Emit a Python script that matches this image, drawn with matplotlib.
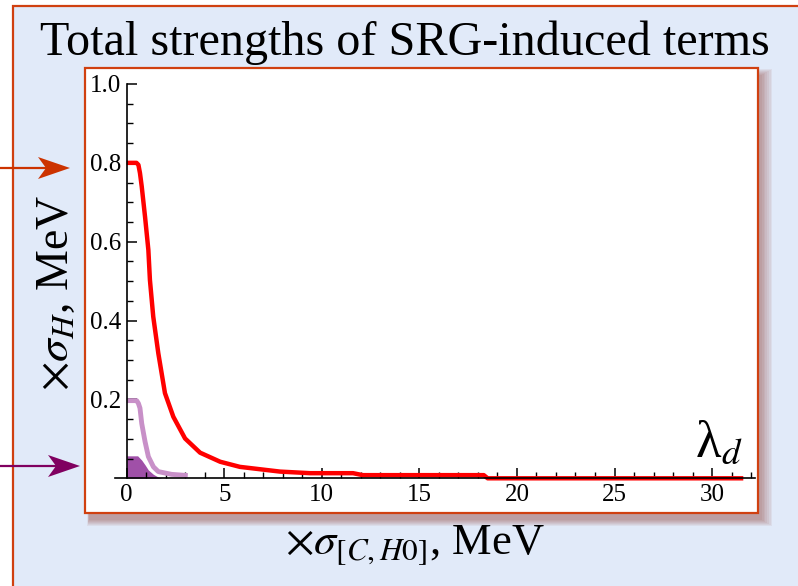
import numpy as np
import matplotlib
matplotlib.use("Agg")
import matplotlib.pyplot as plt
from matplotlib.patches import Rectangle, Polygon

plt.rcParams['font.family'] = ['Liberation Serif', 'DejaVu Serif']
plt.rcParams['mathtext.fontset'] = 'stix'

# curves (x in MeV, strength in MeV)
red_x = [0, 0.5, 0.6, 0.68, 0.77, 0.94, 1.11, 1.19, 1.36, 1.62, 1.96, 2.39, 2.99, 3.76, 4.79, 5.8, 7.86, 9.4, 11.6, 12.1, 18.3, 18.5, 31.6]
red_y = [0.80, 0.80, 0.795, 0.774, 0.74, 0.663, 0.579, 0.503, 0.41, 0.317, 0.216, 0.156, 0.101, 0.065, 0.042, 0.029, 0.017, 0.013, 0.013, 0.008, 0.008, 0.0, 0.0]

light_x = [0, 0.51, 0.6, 0.68, 0.77, 0.94, 1.11, 1.37, 1.62, 2.3, 3.13]
light_y = [0.197, 0.197, 0.19, 0.178, 0.139, 0.093, 0.055, 0.029, 0.017, 0.010, 0.007]

dark_x = [0, 0.56, 0.77, 0.94, 1.11, 1.37, 1.62, 1.8]
dark_y = [0.057, 0.057, 0.046, 0.034, 0.021, 0.010, 0.003, 0.0]

xticks = [0, 5, 10, 15, 20, 25, 30]
yticks = [0.2, 0.4, 0.6, 0.8, 1.0]

W, H = 798, 586
orange = '#D04010'
bg = '#E1EAF9'
serif = 'Liberation Serif'

def fx(px):
    return px / W

def fy(py):
    return 1 - py / H

fig = plt.figure(figsize=(7.98, 5.86), dpi=100)
fig.patch.set_facecolor('white')

# slide background with frame on top/left
fig.patches.append(Rectangle((fx(13), -0.2), 1.3, fy(6) + 0.2, transform=fig.transFigure,
                             facecolor=bg, edgecolor=orange, lw=1.6, zorder=-10))

# shadow of the plot box
for i in range(7):
    fig.patches.append(Rectangle((fx(85 + 4 - i * 0.3), fy(512.7 + 7 + i)), fx(673 + 2 * i), (444.7 + 2 * i) / H,
                                 transform=fig.transFigure, facecolor=(0.55, 0.2, 0.15),
                                 edgecolor='none', alpha=0.07, zorder=-9))
# plot box
fig.patches.append(Rectangle((fx(85), fy(512.7)), fx(673), 444.7 / H, transform=fig.transFigure,
                             facecolor='white', edgecolor=orange, lw=1.6, zorder=-8))

# arrows on the left
for y, tip, col in [(168, 70, '#CC3300'), (466, 80, '#800060')]:
    fig.add_artist(plt.Line2D([0, fx(tip - 20)], [fy(y), fy(y)], transform=fig.transFigure,
                              color=col, lw=1.6))
    head = [(fx(tip), fy(y)), (fx(tip - 32), fy(y - 11)), (fx(tip - 24), fy(y)), (fx(tip - 32), fy(y + 11))]
    fig.add_artist(Polygon(head, closed=True, transform=fig.transFigure, facecolor=col, edgecolor='none'))

ax = fig.add_axes([fx(115), fy(478.3), fx(755 - 115), (478.3 - 84) / H])
ax.set_facecolor('none')
ax.set_xlim(-0.6, 32.2)
ax.set_ylim(0, 1.0)

ax.fill_between(dark_x, dark_y, 0, color='#A050A8', lw=0, clip_on=False)
ax.plot(light_x, light_y, color='#C890C8', lw=3.5, solid_capstyle='butt', clip_on=False)
ax.plot(red_x, red_y, color='red', lw=3.2, solid_capstyle='butt', clip_on=False)

ax.spines['top'].set_visible(False)
ax.spines['right'].set_visible(False)
ax.spines['left'].set_position(('data', 0))
for s in ['left', 'bottom']:
    ax.spines[s].set_linewidth(1.2)
    ax.spines[s].set_zorder(5)

ax.set_xticks(xticks)
ax.set_xticklabels([str(v) for v in xticks], fontfamily=serif, fontsize=18)
ax.set_xticks(np.arange(1, 33), minor=True)
ax.set_yticks(yticks)
ax.set_yticklabels(['%.1f' % v for v in yticks], fontfamily=serif, fontsize=18)
ax.set_yticks(np.arange(0.05, 1.0, 0.05), minor=True)
ax.tick_params(which='major', direction='in', length=7, width=1.1, pad=4)
ax.tick_params(which='minor', direction='in', length=4, width=1.0)

fig.text(fx(405), fy(55), 'Total strengths of SRG-induced terms', ha='center', va='baseline', fontsize=34.7)
fig.text(fx(57), fy(293), r'$\times\sigma_H$, MeV', rotation=90, ha='center', va='center', fontsize=33)
fig.text(fx(415), fy(554), r'$\times\sigma_{[C,H0]}$, MeV', ha='center', va='baseline', fontsize=32)
fig.text(fx(695), fy(457), r'λ$_d$', ha='left', va='baseline', fontsize=38)

fig.savefig('out.png', dpi=100)
